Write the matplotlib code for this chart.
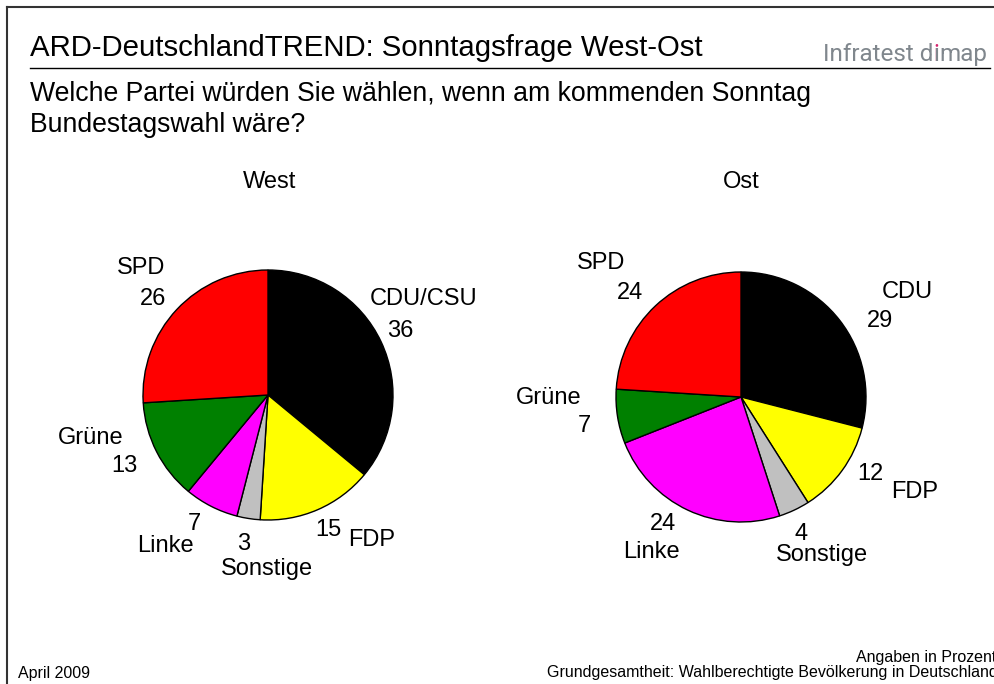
import matplotlib
matplotlib.use("Agg")
import matplotlib.pyplot as plt

plt.rcParams['font.family'] = ['Liberation Sans', 'DejaVu Sans']

# Daten (Angaben in Prozent), im Uhrzeigersinn ab 12 Uhr
parteien_west = ['CDU/CSU', 'FDP', 'Sonstige', 'Linke', 'Grüne', 'SPD']
werte_west = [36, 15, 3, 7, 13, 26]
parteien_ost = ['CDU', 'FDP', 'Sonstige', 'Linke', 'Grüne', 'SPD']
werte_ost = [29, 12, 4, 24, 7, 24]
farben = ['#000000', '#FFFF00', '#C0C0C0', '#FF00FF', '#008000', '#FF0000']

W, H = 995, 684
fig = plt.figure(figsize=(W / 100, H / 100), dpi=100)
ax = fig.add_axes([0, 0, 1, 1])

def py(y):
    # Pixel-y (von oben) -> Datenkoordinate
    return H - y

# Kuchen
ax.pie(werte_west, colors=farben, startangle=90, counterclock=False,
       center=(268, py(395)), radius=125, frame=True,
       wedgeprops=dict(edgecolor='black', linewidth=1))
ax.pie(werte_ost, colors=farben, startangle=90, counterclock=False,
       center=(741, py(397)), radius=125, frame=True,
       wedgeprops=dict(edgecolor='black', linewidth=1))

# Beschriftungen: (Name-Position, Wert-Position) in Pixeln, Textmitte
pos_west = [((424, 297), (400, 329)),
            ((372, 538), (328, 528)),
            ((267, 566), (244, 542)),
            ((165, 544), (194, 522)),
            ((91, 436), (124, 463)),
            ((141, 266), (153, 297))]
pos_ost = [((907, 290), (880, 319)),
           ((915, 490), (870, 471)),
           ((822, 552), (801, 532)),
           ((651, 549), (663, 522)),
           ((549, 396), (584, 424)),
           ((601, 261), (630, 291))]

for namen, werte, pos in [(parteien_west, werte_west, pos_west),
                          (parteien_ost, werte_ost, pos_ost)]:
    for n, v, (pn, pv) in zip(namen, werte, pos):
        ax.text(pn[0], py(pn[1]), n, fontsize=17, ha='center', va='center_baseline')
        ax.text(pv[0], py(pv[1]), str(v), fontsize=17, ha='center', va='center_baseline')

ax.text(270, py(180), 'West', fontsize=17, ha='center', va='center_baseline')
ax.text(741, py(180), 'Ost', fontsize=17, ha='center', va='center_baseline')

# Kopf
ax.text(30, py(56), 'ARD-DeutschlandTREND: Sonntagsfrage West-Ost',
        fontsize=21.2, ha='left', va='baseline')
ax.plot([30, 990], [py(68), py(68)], color='black', linewidth=1)

logo = dict(fontsize=17.5, color='#80878d', va='bottom', ha='left', family='Roboto')
t1 = ax.text(823, py(66), 'Infratest d', **logo)
t2 = ax.annotate('i', xy=(1, 0), xycoords=t1, **dict(logo, color='#d6246e'))
ax.annotate('\u0131', xy=(1, 0), xycoords=t1, **logo)
ax.annotate('map', xy=(1, 0), xycoords=t2, **logo)

ax.text(30, py(101), 'Welche Partei würden Sie wählen, wenn am kommenden Sonntag',
        fontsize=19.2, ha='left', va='baseline')
ax.text(30, py(132), 'Bundestagswahl wäre?', fontsize=19.2, ha='left', va='baseline')

# Rahmen
ax.plot([7, W], [py(7), py(7)], color='#333333', linewidth=1.5)
ax.plot([7, 7], [py(7), 0], color='#333333', linewidth=1.5)

# Fuss
ax.text(18, py(678), 'April 2009', fontsize=11.5, ha='left', va='baseline')
ax.text(996, py(662), 'Angaben in Prozent', fontsize=11.5, ha='right', va='baseline')
ax.text(998, py(677), 'Grundgesamtheit: Wahlberechtigte Bevölkerung in Deutschland',
        fontsize=11.5, ha='right', va='baseline')

ax.set_xlim(0, W)
ax.set_ylim(0, H)
ax.set_aspect('equal')
ax.axis('off')

fig.savefig('out.png', dpi=100)
